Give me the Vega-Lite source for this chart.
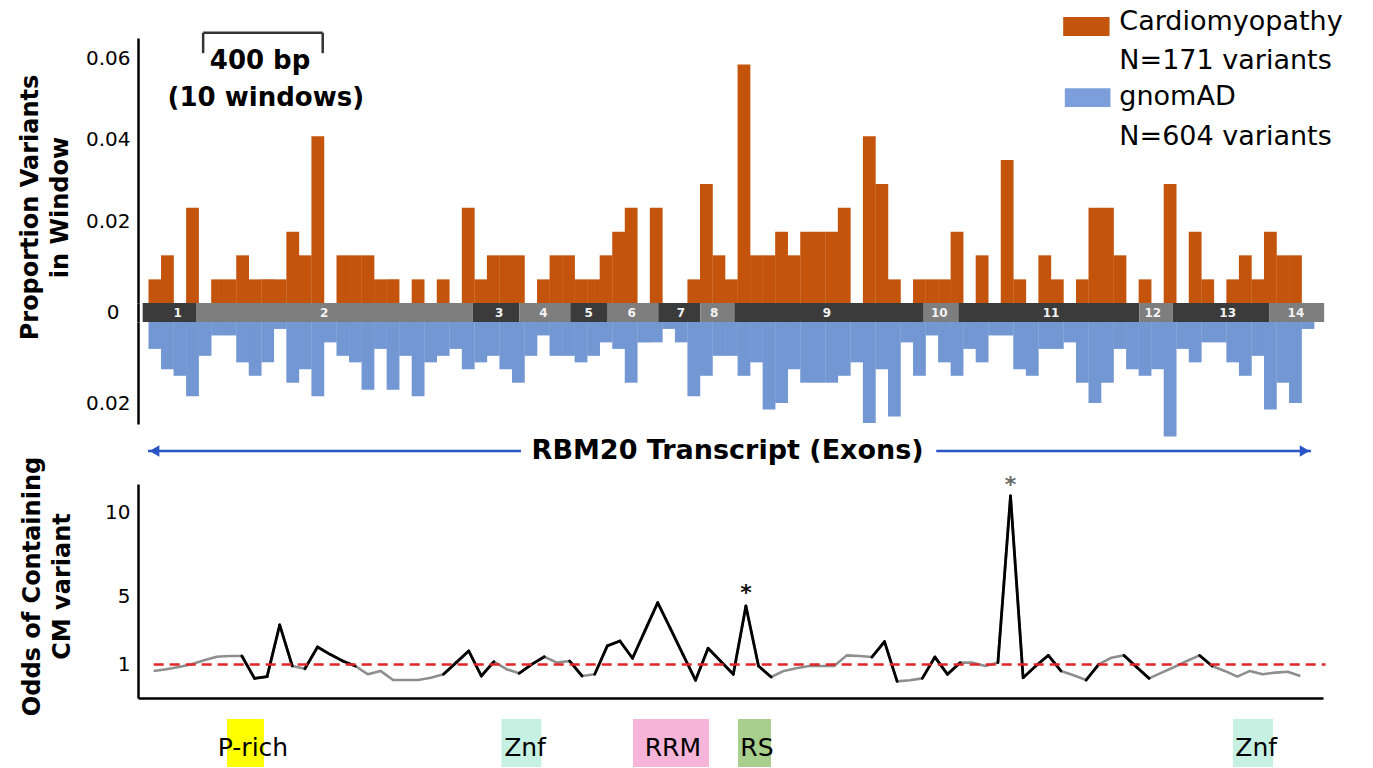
{
  "$schema": "https://vega.github.io/schema/vega-lite/v6.json",
  "padding": {"left": 17, "top": 7, "right": 5, "bottom": 0},
  "background": "white",
  "spacing": 0,
  "bounds": "flush",
  "resolve": {"scale": {"color": "independent", "shape": "independent", "x": "independent", "y": "independent"}},
  "config": {
    "view": {"stroke": null},
    "font": "DejaVu Sans",
    "axis": {"labelFont": "DejaVu Sans", "titleFont": "DejaVu Sans", "domainColor": "black", "domainWidth": 2.5, "ticks": false, "grid": false, "labelColor": "black", "titleColor": "black", "labelFontSize": 20}
  },
  "datasets": {
    "bars": [
      {"w":0,"cm":0.0058,"gn":0.0066},{"w":1,"cm":0.0117,"gn":0.0116},{"w":2,"cm":0,"gn":0.0132},{"w":3,"cm":0.0234,"gn":0.0182},{"w":4,"cm":0,"gn":0.0083},
      {"w":5,"cm":0.0058,"gn":0.0033},{"w":6,"cm":0.0058,"gn":0.0033},{"w":7,"cm":0.0117,"gn":0.0099},{"w":8,"cm":0.0058,"gn":0.0132},{"w":9,"cm":0.0058,"gn":0.0099},
      {"w":10,"cm":0.0058,"gn":0.0017},{"w":11,"cm":0.0175,"gn":0.0149},{"w":12,"cm":0.0117,"gn":0.0116},{"w":13,"cm":0.0409,"gn":0.0182},{"w":14,"cm":0,"gn":0.005},
      {"w":15,"cm":0.0117,"gn":0.0083},{"w":16,"cm":0.0117,"gn":0.0099},{"w":17,"cm":0.0117,"gn":0.0166},{"w":18,"cm":0.0058,"gn":0.0066},{"w":19,"cm":0.0058,"gn":0.0166},
      {"w":20,"cm":0,"gn":0.0083},{"w":21,"cm":0.0058,"gn":0.0182},{"w":22,"cm":0,"gn":0.0099},{"w":23,"cm":0.0058,"gn":0.0083},{"w":24,"cm":0,"gn":0.0066},
      {"w":25,"cm":0.0234,"gn":0.0116},{"w":26,"cm":0.0058,"gn":0.0099},{"w":27,"cm":0.0117,"gn":0.0083},{"w":28,"cm":0.0117,"gn":0.0116},{"w":29,"cm":0.0117,"gn":0.0149},
      {"w":30,"cm":0,"gn":0.0083},{"w":31,"cm":0.0058,"gn":0.0033},{"w":32,"cm":0.0117,"gn":0.0083},{"w":33,"cm":0.0117,"gn":0.0083},{"w":34,"cm":0.0058,"gn":0.0099},
      {"w":35,"cm":0.0058,"gn":0.0083},{"w":36,"cm":0.0117,"gn":0.005},{"w":37,"cm":0.0175,"gn":0.0066},{"w":38,"cm":0.0234,"gn":0.0149},{"w":39,"cm":0,"gn":0.005},
      {"w":40,"cm":0.0234,"gn":0.005},{"w":41,"cm":0,"gn":0.0017},{"w":42,"cm":0,"gn":0.005},{"w":43,"cm":0.0058,"gn":0.0182},{"w":44,"cm":0.0292,"gn":0.0132},
      {"w":45,"cm":0.0117,"gn":0.0083},{"w":46,"cm":0.0058,"gn":0.0083},{"w":47,"cm":0.0585,"gn":0.0132},{"w":48,"cm":0.0117,"gn":0.0099},{"w":49,"cm":0.0117,"gn":0.0215},
      {"w":50,"cm":0.0175,"gn":0.0199},{"w":51,"cm":0.0117,"gn":0.0116},{"w":52,"cm":0.0175,"gn":0.0149},{"w":53,"cm":0.0175,"gn":0.0149},{"w":54,"cm":0.0175,"gn":0.0149},
      {"w":55,"cm":0.0234,"gn":0.0132},{"w":56,"cm":0,"gn":0.0099},{"w":57,"cm":0.0409,"gn":0.0248},{"w":58,"cm":0.0292,"gn":0.0116},{"w":59,"cm":0.0058,"gn":0.0232},
      {"w":60,"cm":0,"gn":0.005},{"w":61,"cm":0.0058,"gn":0.0132},{"w":62,"cm":0.0058,"gn":0.0033},{"w":63,"cm":0.0058,"gn":0.0099},{"w":64,"cm":0.0175,"gn":0.0132},
      {"w":65,"cm":0,"gn":0.0066},{"w":66,"cm":0.0117,"gn":0.0099},{"w":67,"cm":0,"gn":0.0033},{"w":68,"cm":0.0351,"gn":0.0033},{"w":69,"cm":0.0058,"gn":0.0116},
      {"w":70,"cm":0,"gn":0.0132},{"w":71,"cm":0.0117,"gn":0.0066},{"w":72,"cm":0.0058,"gn":0.0066},{"w":73,"cm":0,"gn":0.005},{"w":74,"cm":0.0058,"gn":0.0149},
      {"w":75,"cm":0.0234,"gn":0.0199},{"w":76,"cm":0.0234,"gn":0.0149},{"w":77,"cm":0.0117,"gn":0.0066},{"w":78,"cm":0,"gn":0.0116},{"w":79,"cm":0.0058,"gn":0.0132},
      {"w":80,"cm":0,"gn":0.0116},{"w":81,"cm":0.0292,"gn":0.0281},{"w":82,"cm":0,"gn":0.0066},{"w":83,"cm":0.0175,"gn":0.0099},{"w":84,"cm":0.0058,"gn":0.005},
      {"w":85,"cm":0,"gn":0.005},{"w":86,"cm":0.0058,"gn":0.0099},{"w":87,"cm":0.0117,"gn":0.0132},{"w":88,"cm":0.0058,"gn":0.0083},{"w":89,"cm":0.0175,"gn":0.0215},
      {"w":90,"cm":0.0117,"gn":0.0149},{"w":91,"cm":0.0117,"gn":0.0199},{"w":92,"cm":0,"gn":0.0017}
    ],
    "bracket": [
      {"x":3.85,"x2":13.39,"y":0.0663,"y2":0.0663},
      {"x":3.85,"x2":3.85,"y":0.0663,"y2":0.0613},
      {"x":13.39,"x2":13.39,"y":0.0663,"y2":0.0613}
    ],
    "scaleText": [
      {"w":8.39,"y":0.0595,"t":"400 bp"},
      {"w":8.85,"y":0.0502,"t":"(10 windows)"}
    ],
    "legendSw": [
      {"x":72.47,"x2":76.17,"y":0.0702,"y2":0.0655,"s":"Cardiomyopathy"},
      {"x":72.6,"x2":76.24,"y":0.0527,"y2":0.0481,"s":"gnomAD"}
    ],
    "legendText": [
      {"x":76.95,"y":0.069,"t":"Cardiomyopathy"},
      {"x":76.95,"y":0.0595,"t":"N=171 variants"},
      {"x":76.95,"y":0.0506,"t":"gnomAD"},
      {"x":76.95,"y":0.0408,"t":"N=604 variants"}
    ],
    "exons": [
      {"exon":"1","start":-0.58,"end":3.64,"lab":2.19,"parity":"odd"},
      {"exon":"2","start":3.64,"end":25.53,"lab":13.77,"parity":"even"},
      {"exon":"3","start":25.53,"end":29.22,"lab":27.63,"parity":"odd"},
      {"exon":"4","start":29.22,"end":33.25,"lab":31.12,"parity":"even"},
      {"exon":"5","start":33.25,"end":36.21,"lab":34.71,"parity":"odd"},
      {"exon":"6","start":36.21,"end":40.21,"lab":38.11,"parity":"even"},
      {"exon":"7","start":40.21,"end":43.54,"lab":42.01,"parity":"odd"},
      {"exon":"8","start":43.54,"end":46.23,"lab":44.64,"parity":"even"},
      {"exon":"9","start":46.23,"end":61.21,"lab":53.56,"parity":"odd"},
      {"exon":"10","start":61.21,"end":63.95,"lab":62.44,"parity":"even"},
      {"exon":"11","start":63.95,"end":78.27,"lab":71.28,"parity":"odd"},
      {"exon":"12","start":78.27,"end":80.92,"lab":79.33,"parity":"even"},
      {"exon":"13","start":80.92,"end":88.54,"lab":85.26,"parity":"odd"},
      {"exon":"14","start":88.54,"end":92.89,"lab":90.66,"parity":"even"}
    ],
    "arrowLines": [
      {"x":-0.16,"x2":29.35,"y":0.55},
      {"x":62.2,"x2":91.85,"y":0.55}
    ],
    "arrowHeads": [
      {"x":0.35,"y":0.55,"dir":"left"},
      {"x":91.35,"y":0.55,"dir":"right"}
    ],
    "arrowText": [
      {"x":45.7,"y":0.55,"t":"RBM20 Transcript (Exons)"}
    ],
    "odds": [
      {"j":0,"odds":0.62,"sig":0},{"j":1,"odds":0.72,"sig":0},{"j":2,"odds":0.85,"sig":0},{"j":3,"odds":1.01,"sig":0},{"j":4,"odds":1.25,"sig":0},
      {"j":5,"odds":1.46,"sig":0},{"j":6,"odds":1.5,"sig":0},{"j":7,"odds":1.5,"sig":1},{"j":8,"odds":0.18,"sig":1},{"j":9,"odds":0.28,"sig":1},
      {"j":10,"odds":3.34,"sig":1},{"j":11,"odds":0.91,"sig":0},{"j":12,"odds":0.75,"sig":1},{"j":13,"odds":2.04,"sig":1},{"j":14,"odds":1.6,"sig":1},
      {"j":15,"odds":1.21,"sig":1},{"j":16,"odds":0.91,"sig":0},{"j":17,"odds":0.42,"sig":0},{"j":18,"odds":0.62,"sig":0},{"j":19,"odds":0.08,"sig":0},
      {"j":20,"odds":0.08,"sig":0},{"j":21,"odds":0.08,"sig":0},{"j":22,"odds":0.22,"sig":0},{"j":23,"odds":0.42,"sig":1},{"j":24,"odds":1.11,"sig":1},
      {"j":25,"odds":1.8,"sig":1},{"j":26,"odds":0.32,"sig":1},{"j":27,"odds":1.17,"sig":0},{"j":28,"odds":0.72,"sig":0},{"j":29,"odds":0.48,"sig":1},
      {"j":30,"odds":1.01,"sig":1},{"j":31,"odds":1.46,"sig":0},{"j":32,"odds":1.11,"sig":0},{"j":33,"odds":1.21,"sig":1},{"j":34,"odds":0.32,"sig":0},
      {"j":35,"odds":0.42,"sig":1},{"j":36,"odds":2.1,"sig":1},{"j":37,"odds":2.39,"sig":1},{"j":38,"odds":1.37,"sig":1},{"j":39,"odds":3.02,"sig":1},
      {"j":40,"odds":4.66,"sig":1},{"j":41,"odds":3.14,"sig":1},{"j":42,"odds":1.6,"sig":1},{"j":43,"odds":0.07,"sig":1},{"j":44,"odds":1.96,"sig":1},
      {"j":45,"odds":1.19,"sig":1},{"j":46,"odds":0.42,"sig":1},{"j":47,"odds":4.46,"sig":1},{"j":48,"odds":0.91,"sig":1},{"j":49,"odds":0.26,"sig":0},
      {"j":50,"odds":0.62,"sig":0},{"j":51,"odds":0.78,"sig":0},{"j":52,"odds":0.91,"sig":0},{"j":53,"odds":0.91,"sig":0},{"j":54,"odds":0.91,"sig":0},
      {"j":55,"odds":1.54,"sig":0},{"j":56,"odds":1.5,"sig":0},{"j":57,"odds":1.44,"sig":1},{"j":58,"odds":2.35,"sig":1},{"j":59,"odds":0.0,"sig":0},
      {"j":60,"odds":0.07,"sig":0},{"j":61,"odds":0.18,"sig":1},{"j":62,"odds":1.44,"sig":1},{"j":63,"odds":0.42,"sig":1},{"j":64,"odds":1.11,"sig":0},
      {"j":65,"odds":1.11,"sig":0},{"j":66,"odds":0.91,"sig":0},{"j":67,"odds":1.11,"sig":1},{"j":68,"odds":10.97,"sig":1},{"j":69,"odds":0.22,"sig":1},
      {"j":70,"odds":0.91,"sig":1},{"j":71,"odds":1.54,"sig":1},{"j":72,"odds":0.62,"sig":0},{"j":73,"odds":0.36,"sig":0},{"j":74,"odds":0.08,"sig":1},
      {"j":75,"odds":1.01,"sig":0},{"j":76,"odds":1.4,"sig":0},{"j":77,"odds":1.54,"sig":1},{"j":78,"odds":0.85,"sig":1},{"j":79,"odds":0.18,"sig":0},
      {"j":80,"odds":0.52,"sig":0},{"j":81,"odds":0.85,"sig":0},{"j":82,"odds":1.21,"sig":0},{"j":83,"odds":1.54,"sig":1},{"j":84,"odds":0.91,"sig":0},
      {"j":85,"odds":0.62,"sig":0},{"j":86,"odds":0.28,"sig":0},{"j":87,"odds":0.62,"sig":0},{"j":88,"odds":0.42,"sig":0},{"j":89,"odds":0.52,"sig":0},
      {"j":90,"odds":0.57,"sig":0},{"j":91,"odds":0.32,"sig":0}
    ],
    "refline": [{"a":0,"b":93,"odds":1}],
    "stars": [
      {"j":47,"odds":5.23,"t":"*","peak":"RS"},
      {"j":68,"odds":11.62,"t":"*","peak":"exon11"}
    ],
    "domains": [
      {"name":"P-rich","s":5.82,"e":8.75,"tx":7.88},
      {"name":"Znf","s":27.6,"e":30.76,"tx":29.47},
      {"name":"RRM","s":38.04,"e":44.07,"tx":41.2},
      {"name":"RS","s":46.37,"e":48.99,"tx":47.88},
      {"name":"Znf","s":85.66,"e":88.83,"tx":87.5}
    ]
  },
  "vconcat": [
    {
      "width": 1185,
      "height": 265,
      "layer": [
        {
          "data": {"name": "bars"},
          "mark": {"type": "bar", "orient": "vertical", "width": 12.8, "color": "#C4540C"},
          "encoding": {
            "x": {"field": "w", "type": "quantitative", "scale": {"domain": [-0.949, 92.8], "nice": false, "zero": false}, "axis": null},
            "y": {"field": "cm", "type": "quantitative", "scale": {"domain": [0, 0.06503], "nice": false, "zero": false},
              "axis": {"values": [0.02, 0.04, 0.06], "format": ".2f", "labelPadding": 8, "title": ["Proportion Variants", "in Window"], "titleFontSize": 24, "titleFontWeight": "bold", "titleLineHeight": 30, "titleX": -108, "titleY": 169, "titleAngle": -90, "titleAlign": "center", "titleBaseline": "middle"}}
          }
        },
        {
          "data": {"name": "bracket"},
          "mark": {"type": "rule", "color": "#333333", "strokeWidth": 2.5},
          "encoding": {
            "x": {"field": "x", "type": "quantitative", "axis": null},
            "x2": {"field": "x2"},
            "y": {"field": "y", "type": "quantitative"},
            "y2": {"field": "y2"}
          }
        },
        {
          "data": {"name": "scaleText"},
          "mark": {"type": "text", "fontSize": 26, "fontWeight": "bold", "color": "black", "align": "center", "baseline": "middle"},
          "encoding": {
            "x": {"field": "w", "type": "quantitative", "axis": null},
            "y": {"field": "y", "type": "quantitative"},
            "text": {"field": "t"}
          }
        },
        {
          "data": {"name": "legendSw"},
          "mark": {"type": "rect"},
          "encoding": {
            "x": {"field": "x", "type": "quantitative", "axis": null},
            "x2": {"field": "x2"},
            "y": {"field": "y", "type": "quantitative"},
            "y2": {"field": "y2"},
            "color": {"field": "s", "type": "nominal", "scale": {"domain": ["Cardiomyopathy", "gnomAD"], "range": ["#C4540C", "#7C9FDB"]}, "legend": null}
          }
        },
        {
          "data": {"name": "legendText"},
          "mark": {"type": "text", "fontSize": 27, "color": "black", "align": "left", "baseline": "middle"},
          "encoding": {
            "x": {"field": "x", "type": "quantitative", "axis": null},
            "y": {"field": "y", "type": "quantitative"},
            "text": {"field": "t"}
          }
        }
      ]
    },
    {
      "width": 1185,
      "height": 19,
      "layer": [
        {
          "data": {"name": "exons"},
          "mark": {"type": "rect"},
          "encoding": {
            "x": {"field": "start", "type": "quantitative", "scale": {"domain": [-0.949, 92.8], "nice": false, "zero": false}, "axis": null},
            "x2": {"field": "end"},
            "y": {"datum": -1, "type": "quantitative", "scale": {"domain": [-1, 1], "nice": false, "zero": false}, "axis": {"values": [0], "format": "d", "labelPadding": 19, "title": null}},
            "y2": {"datum": 1},
            "color": {"field": "parity", "type": "nominal", "scale": {"domain": ["odd", "even"], "range": ["#3b3b3b", "#7e7e7e"]}, "legend": null}
          }
        },
        {
          "data": {"name": "exons"},
          "mark": {"type": "text", "fontSize": 12, "fontWeight": "bold", "color": "#f2f2f2", "align": "center", "baseline": "middle"},
          "encoding": {
            "x": {"field": "lab", "type": "quantitative", "axis": null},
            "y": {"datum": 0, "type": "quantitative"},
            "text": {"field": "exon"}
          }
        }
      ]
    },
    {
      "width": 1185,
      "height": 102,
      "data": {"name": "bars"},
      "mark": {"type": "bar", "orient": "vertical", "width": 12.8, "color": "#7397D2"},
      "encoding": {
        "x": {"field": "w", "type": "quantitative", "scale": {"domain": [-0.949, 92.8], "nice": false, "zero": false}, "axis": null},
        "y": {"field": "gn", "type": "quantitative", "scale": {"domain": [0, 0.02503], "nice": false, "zero": false, "reverse": true}, "axis": {"values": [0.02], "format": ".2f", "labelPadding": 8, "title": null}}
      }
    },
    {
      "width": 1185,
      "height": 60,
      "layer": [
        {
          "data": {"name": "arrowLines"},
          "mark": {"type": "rule", "color": "#2A55C4", "strokeWidth": 2.5},
          "encoding": {
            "x": {"field": "x", "type": "quantitative", "scale": {"domain": [-0.949, 92.8], "nice": false, "zero": false}, "axis": null},
            "x2": {"field": "x2"},
            "y": {"field": "y", "type": "quantitative", "scale": {"domain": [0, 1], "nice": false}, "axis": null}
          }
        },
        {
          "data": {"name": "arrowHeads"},
          "mark": {"type": "point", "filled": true, "color": "#2A55C4", "size": 130, "opacity": 1},
          "encoding": {
            "x": {"field": "x", "type": "quantitative", "axis": null},
            "y": {"field": "y", "type": "quantitative", "axis": null},
            "shape": {"field": "dir", "type": "nominal", "scale": {"domain": ["left", "right"], "range": ["triangle-left", "triangle-right"]}, "legend": null}
          }
        },
        {
          "data": {"name": "arrowText"},
          "mark": {"type": "text", "fontSize": 27, "fontWeight": "bold", "color": "black", "align": "center", "baseline": "middle"},
          "encoding": {
            "x": {"field": "x", "type": "quantitative", "axis": null},
            "y": {"field": "y", "type": "quantitative", "axis": null},
            "text": {"field": "t"}
          }
        }
      ]
    },
    {
      "width": 1185,
      "height": 214,
      "layer": [
        {
          "data": {"name": "odds"},
          "mark": {"type": "line", "color": "#8e8e8e", "strokeWidth": 2.6, "strokeJoin": "round"},
          "encoding": {
            "x": {"field": "j", "type": "quantitative", "scale": {"domain": [-1.246, 92.8], "nice": false, "zero": false}, "axis": {"labels": false, "ticks": false, "title": null, "grid": false}},
            "y": {"field": "odds", "type": "quantitative", "scale": {"domain": [-0.982, 11.68], "nice": false, "zero": false},
              "axis": {"values": [1, 5, 10], "labelPadding": 8, "title": ["Odds of Containing", "CM variant"], "titleFontSize": 24, "titleFontWeight": "bold", "titleLineHeight": 30, "titleX": -106, "titleY": 102, "titleAngle": -90, "titleAlign": "center", "titleBaseline": "middle"}}
          }
        },
        {
          "data": {"name": "odds"},
          "transform": [
            {"window": [{"op": "lead", "field": "j", "as": "j2"}, {"op": "lead", "field": "odds", "as": "o2"}], "sort": [{"field": "j"}]},
            {"filter": "datum.sig == 1"}
          ],
          "mark": {"type": "rule", "color": "black", "strokeWidth": 2.8, "strokeCap": "round"},
          "encoding": {
            "x": {"field": "j", "type": "quantitative"},
            "x2": {"field": "j2"},
            "y": {"field": "odds", "type": "quantitative"},
            "y2": {"field": "o2"}
          }
        },
        {
          "data": {"name": "refline"},
          "mark": {"type": "rule", "color": "#E0262A", "strokeWidth": 2.5, "strokeDash": [10, 6]},
          "encoding": {
            "x": {"field": "a", "type": "quantitative"},
            "x2": {"field": "b"},
            "y": {"field": "odds", "type": "quantitative"}
          }
        },
        {
          "data": {"name": "stars"},
          "mark": {"type": "text", "fontSize": 22, "fontWeight": "bold", "align": "center", "baseline": "middle"},
          "encoding": {
            "x": {"field": "j", "type": "quantitative"},
            "y": {"field": "odds", "type": "quantitative"},
            "text": {"field": "t"},
            "color": {"field": "peak", "type": "nominal", "scale": {"domain": ["RS", "exon11"], "range": ["#111111", "#6a6a6a"]}, "legend": null}
          }
        }
      ]
    },
    {
      "width": 1185,
      "height": 71,
      "layer": [
        {
          "data": {"name": "domains"},
          "mark": {"type": "rect"},
          "encoding": {
            "x": {"field": "s", "type": "quantitative", "scale": {"domain": [-1.246, 92.8], "nice": false, "zero": false}, "axis": null},
            "x2": {"field": "e"},
            "y": {"datum": 0.704, "type": "quantitative", "scale": {"domain": [0, 1], "nice": false}, "axis": null},
            "y2": {"datum": 0.028},
            "color": {"field": "name", "type": "nominal", "scale": {"domain": ["P-rich", "Znf", "RRM", "RS"], "range": ["#FFFF00", "#C6F1E2", "#F6B5D8", "#A9CF8F"]}, "legend": null}
          }
        },
        {
          "data": {"name": "domains"},
          "mark": {"type": "text", "fontSize": 25, "color": "black", "align": "center", "baseline": "middle"},
          "encoding": {
            "x": {"field": "tx", "type": "quantitative", "axis": null},
            "y": {"datum": 0.289, "type": "quantitative", "axis": null},
            "text": {"field": "name"}
          }
        }
      ]
    }
  ]
}
